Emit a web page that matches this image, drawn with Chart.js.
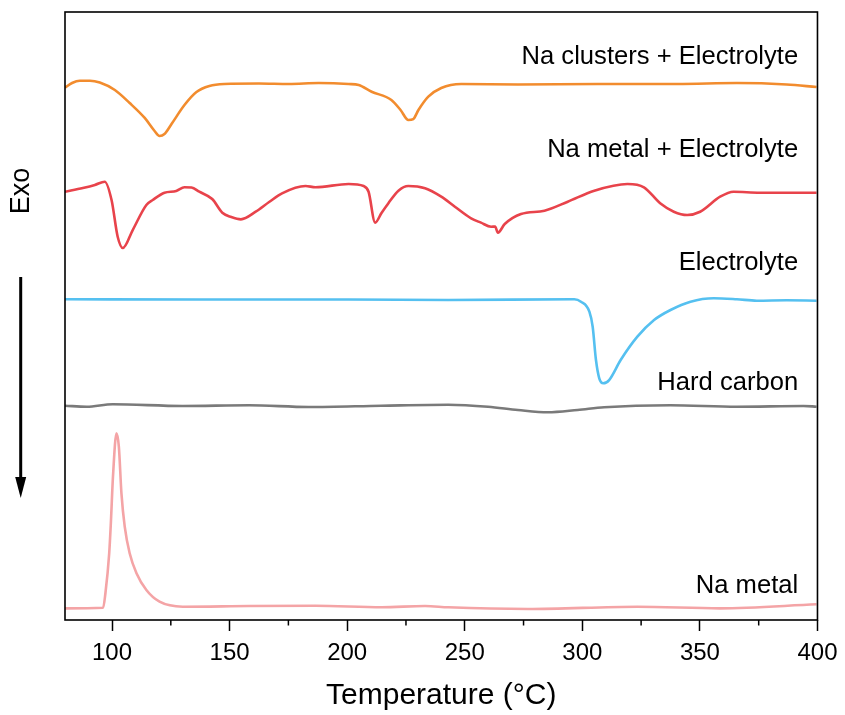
<!DOCTYPE html>
<html>
<head>
<meta charset="utf-8">
<script src="https://cdn.jsdelivr.net/npm/chart.js@4.4.1/dist/chart.umd.min.js"></script>
<style>
  html, body { margin: 0; padding: 0; background: #ffffff; }
  #wrap { width: 845px; height: 715px; position: relative; }
</style>
</head>
<body>
<div id="wrap"><canvas id="c" width="845" height="715"></canvas></div>
<script>
// ---- Data (temperature in °C, heat flow in arbitrary stacked units) ----
const seriesNames = ['Na clusters + Electrolyte', 'Na metal + Electrolyte', 'Electrolyte', 'Hard carbon', 'Na metal'];

const naClustersElT = [80.0, 83.0, 86.3, 90.6, 94.8, 101.2, 107.5, 113.9, 118.1, 120.2, 122.3, 125.3, 130.8, 135.9, 141.4, 147.7, 162.5, 175.2, 187.9, 200.6, 204.9, 210.4, 218.8, 222.7, 226.0, 228.1, 230.3, 234.5, 240.0, 248.5, 272.6, 306.5, 340.3, 365.7, 386.9, 399.6];
const naClustersElV = [87.55, 88.32, 88.70, 88.70, 88.40, 87.17, 85.03, 82.57, 80.43, 79.61, 79.93, 81.58, 84.70, 86.84, 87.83, 88.16, 88.24, 88.16, 88.32, 88.16, 87.99, 86.89, 85.53, 83.88, 82.24, 82.40, 83.88, 86.07, 87.50, 88.16, 88.08, 88.16, 88.16, 88.32, 88.08, 87.66];

const naMetalElT = [80.0, 87.6, 92.7, 96.9, 99.8, 102.4, 104.6, 108.8, 114.6, 117.3, 122.3, 127.3, 130.8, 133.8, 137.1, 142.6, 146.9, 150.7, 154.8, 161.1, 166.8, 172.3, 182.3, 186.5, 200.6, 207.0, 209.1, 211.9, 214.6, 217.6, 221.8, 226.0, 233.1, 240.0, 245.8, 252.7, 256.9, 261.2, 262.9, 264.1, 267.0, 273.9, 283.9, 293.8, 305.1, 319.2, 326.2, 333.1, 338.9, 344.6, 350.1, 358.6, 364.3, 375.5, 399.6];
const naMetalElV = [70.44, 71.05, 71.55, 72.09, 69.08, 63.04, 61.18, 64.14, 68.26, 69.08, 70.28, 70.56, 71.17, 71.13, 70.44, 69.24, 66.99, 66.28, 65.90, 67.15, 68.75, 70.18, 71.38, 71.17, 71.71, 71.38, 70.44, 65.35, 66.94, 68.59, 70.61, 71.38, 71.00, 69.62, 67.98, 66.07, 65.35, 64.69, 64.72, 63.70, 65.13, 66.78, 67.32, 68.80, 70.61, 71.71, 71.17, 68.54, 67.15, 66.61, 67.15, 69.62, 70.44, 70.28, 70.28];

const electrolyteT = [80, 137.1, 200.6, 243.0, 296.6, 299.4, 303.0, 304.4, 305.8, 307.2, 308.9, 311.4, 316.3, 323.4, 330.5, 337.5, 346.0, 355.9, 365.7, 374.2, 386.9, 399.6];
const electrolyteV = [52.75, 52.71, 52.71, 52.63, 52.75, 52.35, 50.71, 48.24, 42.76, 39.75, 38.93, 39.47, 42.76, 46.60, 49.34, 50.99, 52.35, 52.91, 52.75, 52.52, 52.58, 52.52];

const hardCarbonT = [80, 89.2, 100.3, 130.0, 158.3, 183.7, 214.6, 243.0, 259.9, 272.6, 285.3, 298.0, 309.3, 337.4, 365.7, 394.0, 399.6];
const hardCarbonV = [35.25, 35.08, 35.48, 35.20, 35.31, 35.03, 35.25, 35.41, 35.08, 34.54, 34.16, 34.54, 34.98, 35.31, 35.08, 35.20, 35.08];

const naMetalT = [80, 96.2, 97.2, 98.8, 99.5, 100.4, 101.9, 102.9, 104.0, 105.4, 107.5, 110.4, 114.6, 120.2, 130.1, 158.3, 186.5, 214.7, 233.1, 243.0, 276.8, 323.4, 358.5, 399.6];
const naMetalV = [1.92, 2.02, 4.44, 10.97, 15.95, 23.57, 30.71, 28.50, 20.84, 15.35, 10.97, 7.68, 4.93, 3.01, 2.19, 2.30, 2.35, 2.09, 2.30, 2.09, 1.81, 2.19, 1.92, 2.58];

// label anchors (data units: right end temperature, baseline value)
const labelAnchorT = [391.8, 391.8, 391.8, 391.8, 391.8];
const labelAnchorV = [91.45, 76.15, 57.57, 37.83, 4.44];

const xMin = 80, xMax = 400, xMajor = 50, xMinor = 25;

// ---- Build ----
const colors = ['#F28C2E', '#E8434B', '#55C0F0', '#7A7A7A', '#F4A4A6'];
const tArrays = [naClustersElT, naMetalElT, electrolyteT, hardCarbonT, naMetalT];
const vArrays = [naClustersElV, naMetalElV, electrolyteV, hardCarbonV, naMetalV];

const datasets = seriesNames.map((name, i) => ({
  label: name,
  data: tArrays[i].map((t, j) => ({ x: t, y: vArrays[i][j] })),
  borderColor: colors[i],
  borderWidth: 2.6,
  pointRadius: 0,
  fill: false,
  cubicInterpolationMode: 'monotone',
  tension: 0.4
}));

const FONT = '"Liberation Sans", Arial, Helvetica, sans-serif';

const decor = {
  id: 'decor',
  afterDatasetsDraw(chart) {
    const { ctx, chartArea: a, scales } = chart;
    const xs = scales.x, ys = scales.y;
    ctx.save();
    // frame
    ctx.strokeStyle = '#000';
    ctx.lineWidth = 1.6;
    ctx.strokeRect(a.left, a.top, a.right - a.left, a.bottom - a.top);
    // minor ticks
    ctx.lineWidth = 1.5;
    for (let t = xMin - (xMin % xMinor) + xMinor; t < xMax; t += xMinor) {
      if (t % xMajor === 0) continue;
      const px = xs.getPixelForValue(t);
      ctx.beginPath();
      ctx.moveTo(px, a.bottom);
      ctx.lineTo(px, a.bottom + 5.5);
      ctx.stroke();
    }
    // series labels
    ctx.fillStyle = '#000';
    ctx.font = '25.6px ' + FONT;
    ctx.textAlign = 'right';
    ctx.textBaseline = 'alphabetic';
    seriesNames.forEach((name, i) => {
      ctx.fillText(name, xs.getPixelForValue(labelAnchorT[i]), ys.getPixelForValue(labelAnchorV[i]));
    });
    // Exo label
    ctx.save();
    ctx.translate(22, 191);
    ctx.rotate(-Math.PI / 2);
    ctx.textAlign = 'center';
    ctx.textBaseline = 'middle';
    ctx.font = '27px ' + FONT;
    ctx.fillText('Exo', 0, 0);
    ctx.restore();
    // arrow
    ctx.lineWidth = 3;
    ctx.beginPath();
    ctx.moveTo(20.7, 277);
    ctx.lineTo(20.7, 482);
    ctx.stroke();
    ctx.beginPath();
    ctx.moveTo(15.2, 477);
    ctx.lineTo(26.2, 477);
    ctx.lineTo(20.7, 498);
    ctx.closePath();
    ctx.fill();
    ctx.restore();
  }
};

new Chart(document.getElementById('c'), {
  type: 'line',
  data: { datasets },
  options: {
    responsive: false,
    animation: false,
    events: [],
    layout: { padding: { left: 65, right: 24, top: 12, bottom: 0 } },
    plugins: { legend: { display: false }, tooltip: { enabled: false } },
    scales: {
      x: {
        type: 'linear',
        min: xMin, max: xMax,
        afterFit(scale) { scale.height = 95; },
        afterBuildTicks(scale) { scale.ticks = scale.ticks.filter(t => t.value % xMajor === 0); },
        ticks: { stepSize: xMajor, color: '#000', font: { size: 24, family: FONT }, padding: 7.5, maxRotation: 0, autoSkip: false },
        grid: { drawOnChartArea: false, drawTicks: true, tickLength: 11, tickColor: '#000', tickWidth: 1.5 },
        border: { display: false },
        title: { display: true, text: 'Temperature (°C)', color: '#000', font: { size: 30, family: FONT }, padding: { top: 0, bottom: 1 } }
      },
      y: {
        display: false,
        min: 0, max: 100
      }
    }
  },
  plugins: [decor]
});
</script>
</body>
</html>
